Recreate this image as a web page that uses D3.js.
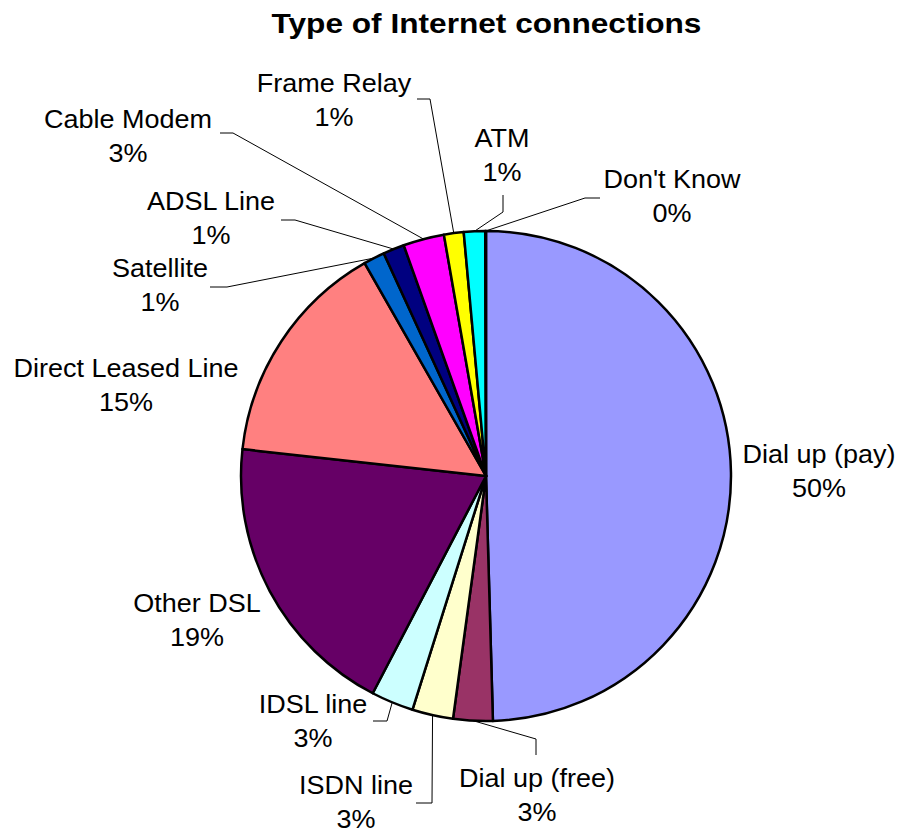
<!DOCTYPE html>
<html>
<head>
<meta charset="utf-8">
<script src="https://cdn.jsdelivr.net/npm/d3@7"></script>
<style>
  html, body { margin: 0; padding: 0; background: #fff; }
  svg { display: block; }
  text { font-family: "Liberation Sans", Arial, sans-serif; fill: #000; }
</style>
</head>
<body>
<svg id="chart" width="903" height="835"></svg>
<script>
// Share of respondents by type of Internet connection (percent)
const categories = [
  "Dial up (pay)", "Dial up (free)", "ISDN line", "IDSL line", "Other DSL",
  "Direct Leased Line", "Satellite", "ADSL Line", "Cable Modem",
  "Frame Relay", "ATM", "Don't Know"
];
const shares = [49.55, 2.6, 2.7, 2.8, 19.1, 15.0, 1.4, 1.4, 2.7, 1.3, 1.4, 0.05];
const sliceColors = [
  "#9999FF", "#993366", "#FFFFCC", "#CCFFFF", "#660066",
  "#FF8080", "#0066CC", "#000080", "#FF00FF", "#FFFF00", "#00FFFF", "#800080"
];

// Label placement: centre x, first-line baseline, and leader elbow points
const labelLayout = [
  { x: 819, y: 463, leader: null },
  { x: 537, y: 787, leader: [[536, 755], [536, 739]] },
  { x: 356, y: 794, leader: [[416, 803], [432, 803]] },
  { x: 313, y: 713, leader: [[373, 721], [387, 721]] },
  { x: 197, y: 612, leader: null },
  { x: 126, y: 377, leader: null },
  { x: 160, y: 277, leader: [[210, 287], [227, 287]] },
  { x: 211, y: 210, leader: [[281, 220], [295, 220]] },
  { x: 128, y: 128, leader: [[220, 133], [233, 133]] },
  { x: 334, y: 92,  leader: [[417, 99], [430, 99]] },
  { x: 502, y: 147, leader: [[503, 195], [503, 212]] },
  { x: 672, y: 188, leader: [[600, 198], [585, 198]] }
];

const cx = 486, cy = 476, radius = 245;
const svg = d3.select("#chart");

const data = categories.map((name, i) => ({ name, value: shares[i], i }));
const total = d3.sum(shares);

const pie = d3.pie().sort(null).value(d => d.value);
const arcs = pie(data);
const arc = d3.arc().innerRadius(0).outerRadius(radius);
const edgeArc = d3.arc().innerRadius(radius).outerRadius(radius);

const color = d3.scaleOrdinal().domain(categories).range(sliceColors);

// Title
svg.append("text")
  .attr("transform", "translate(486.5,33) scale(1.13,1)")
  .attr("text-anchor", "middle")
  .style("font-weight", "bold")
  .style("font-size", "28px")
  .text("Type of Internet connections");

const g = svg.append("g").attr("transform", `translate(${cx},${cy})`);

// Slices
g.selectAll("path.slice")
  .data(arcs)
  .join("path")
  .attr("class", "slice")
  .attr("d", arc)
  .attr("fill", d => color(d.data.name))
  .attr("stroke", "#000")
  .attr("stroke-width", 2.5)
  .attr("stroke-linejoin", "round");

// Leader lines from the rim at each slice's mid-angle to the label elbow
const line = d3.line();
arcs.forEach((a, i) => {
  const lay = labelLayout[i];
  if (!lay.leader) return;
  const [ex, ey] = edgeArc.centroid(a);
  const pts = lay.leader.map(p => [p[0], p[1]]).concat([[ex + cx, ey + cy]]);
  svg.append("path")
    .attr("d", line(pts))
    .attr("fill", "none")
    .attr("stroke", "#000")
    .attr("stroke-width", 1);
});

// Category labels with rounded percentages
arcs.forEach((a, i) => {
  const lay = labelLayout[i];
  const pct = Math.round(a.data.value / total * 100) + "%";
  const t = svg.append("text")
    .attr("transform", `translate(${lay.x},${lay.y}) scale(1.08,1)`)
    .attr("text-anchor", "middle")
    .style("font-size", "25px");
  t.append("tspan").attr("x", 0).attr("y", 0).text(a.data.name);
  t.append("tspan").attr("x", 0).attr("y", 34).text(pct);
});
</script>
</body>
</html>
